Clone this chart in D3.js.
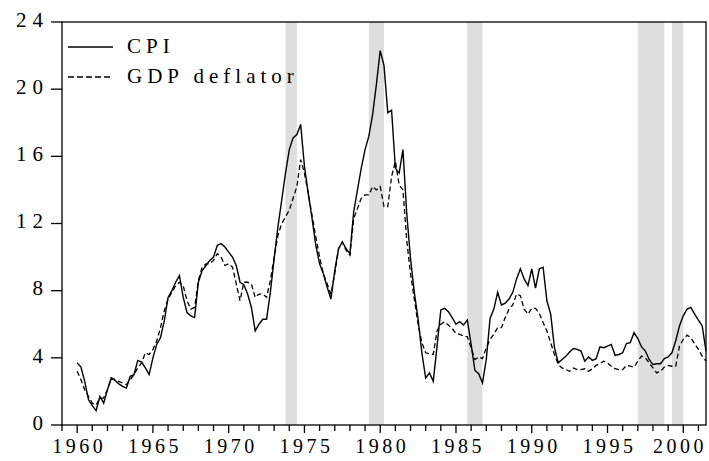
<!DOCTYPE html>
<html>
<head>
<meta charset="utf-8">
<script src="https://cdn.jsdelivr.net/npm/d3@7/dist/d3.min.js"></script>
<style>
  body { margin: 0; background: #fff; }
  text { font-family: "Liberation Serif", "Times New Roman", serif; fill: #000; }
</style>
</head>
<body>
<div id="chart"></div>
<script>
// Données trimestrielles 1960Q1 - 2001Q3
const startYear = 1960;

const cpi = [
  3.7, 3.45, 2.6, 1.5,   1.15, 0.85, 1.7, 1.3,   2.1, 2.8, 2.65, 2.45,   2.3, 2.2, 2.9, 3.0,
  3.85, 3.75, 3.4, 3.0,  4.0, 4.8, 5.2, 6.2,     7.6, 8.0, 8.5, 8.9,     7.6, 6.7, 6.5, 6.4,
  8.5, 9.2, 9.5, 9.8,    10.0, 10.7, 10.8, 10.6, 10.3, 10.0, 9.5, 8.5,   8.35, 7.8, 7.0, 5.6,
  6.0, 6.3, 6.3, 7.9,    9.9, 11.8, 13.4, 15.0,  16.4, 17.1, 17.3, 17.9, 15.4, 13.8, 12.3, 10.7,
  9.6, 9.0, 8.2, 7.5,    9.2, 10.5, 10.9, 10.5,  10.2, 12.7, 14.0, 15.3, 16.4, 17.2, 18.5, 20.3,
  22.3, 21.4, 18.6, 18.75, 15.3, 15.0, 16.4, 12.6, 9.9, 7.9, 6.3, 4.3,  2.8, 3.1, 2.6, 4.7,
  6.85, 6.95, 6.75, 6.4, 6.0, 6.15, 5.95, 6.25,  4.8, 3.25, 3.05, 2.5,   3.9, 6.35, 6.9, 7.9,
  7.15, 7.25, 7.5, 7.9,  8.7, 9.3, 8.7, 8.3,     9.3, 8.15, 9.3, 9.4,    7.4, 6.6, 4.6, 3.7,
  3.9, 4.1, 4.35, 4.55,  4.5, 4.4, 3.8, 4.05,    3.85, 3.95, 4.65, 4.6,  4.7, 4.8, 4.15, 4.2,
  4.3, 4.85, 4.9, 5.5,   5.15, 4.65, 4.4, 3.9,   3.6, 3.65, 3.65, 3.95,  4.05, 4.3, 5.0, 5.9,
  6.5, 6.9, 7.0, 6.6,    6.25, 5.9, 4.4
];

const deflator = [
  3.2, 2.7, 2.1, 1.7,    1.3, 1.2, 1.6, 1.6,     2.1, 2.8, 2.7, 2.6,     2.5, 2.4, 2.7, 3.0,
  3.4, 3.7, 4.3, 4.2,    4.5, 5.0, 5.8, 6.8,     7.5, 7.9, 8.3, 8.5,     8.3, 7.4, 6.9, 7.0,
  8.6, 9.4, 9.6, 9.6,    9.8, 10.2, 10.0, 9.5,   9.6, 9.4, 8.4, 7.4,     8.5, 8.5, 8.4, 7.6,
  7.8, 7.8, 7.6, 8.6,    10.0, 11.3, 12.0, 12.4, 12.8, 13.5, 14.2, 15.8, 15.0, 13.8, 12.5, 11.2,
  10.0, 9.0, 8.4, 7.8,   9.0, 10.5, 10.9, 10.4,  10.1, 12.3, 12.9, 13.5, 13.7, 13.7, 14.2, 14.0,
  14.2, 13.0, 13.0, 14.8, 15.7, 14.3, 14.0, 11.0, 9.0, 7.5, 6.0, 4.9,   4.3, 4.25, 4.2, 5.6,
  6.0, 6.15, 5.95, 5.75, 5.45, 5.4, 5.3, 5.25,   4.6, 3.9, 4.05, 3.95,   4.6, 5.1, 5.4, 5.8,
  5.8, 6.4, 6.9, 7.15,   7.8, 7.7, 6.9, 6.6,     6.95, 6.95, 6.65, 6.1,  5.6, 4.9, 4.2, 3.6,
  3.4, 3.3, 3.2, 3.4,    3.3, 3.3, 3.35, 3.2,    3.35, 3.55, 3.65, 3.8,  3.7, 3.5, 3.35, 3.3,
  3.3, 3.55, 3.5, 3.45,  3.8, 4.1, 4.0, 3.7,     3.4, 3.1, 3.2, 3.45,    3.55, 3.5, 3.5, 4.7,
  5.1, 5.35, 5.2, 4.85,  4.5, 4.1, 3.8
];

// Périodes grisées (début, fin en années décimales)
const shaded = [
  [1973.75, 1974.5],
  [1979.25, 1980.25],
  [1985.75, 1986.75],
  [1997.0, 1998.75],
  [1999.25, 2000.0]
];

const yTicks = [0, 4, 8, 12, 16, 20, 24];
const xLabelYears = [1960, 1965, 1970, 1975, 1980, 1985, 1990, 1995, 2000];
const seriesNames = ["CPI", "GDP deflator"];

// Dimensions
const W = 709, H = 461;
const margin = { top: 22, right: 3, bottom: 36, left: 62 };
const innerW = W - margin.left - margin.right;
const innerH = H - margin.top - margin.bottom;

const svg = d3.select("#chart").append("svg")
  .attr("width", W).attr("height", H);

const g = svg.append("g").attr("transform", `translate(${margin.left},${margin.top})`);

const x = d3.scaleLinear().domain([1959, 2001.5]).range([0, innerW]);
const y = d3.scaleLinear().domain([0, 24]).range([innerH, 0]);

// Zones grisées
g.selectAll(".shade").data(shaded).enter().append("rect")
  .attr("x", d => x(d[0]))
  .attr("width", d => x(d[1]) - x(d[0]))
  .attr("y", 0).attr("height", innerH)
  .attr("fill", "#dedede");

// Séries
const toPts = arr => arr.map((v, i) => ({ t: startYear + i / 4, v }));
const line = d3.line().x(d => x(d.t)).y(d => y(d.v));

g.append("path").datum(toPts(deflator))
  .attr("d", line).attr("fill", "none")
  .attr("stroke", "#000").attr("stroke-width", 1.3)
  .attr("stroke-dasharray", "5,3");

g.append("path").datum(toPts(cpi))
  .attr("d", line).attr("fill", "none")
  .attr("stroke", "#000").attr("stroke-width", 1.4);

// Cadre
g.append("rect").attr("x", 0).attr("y", 0)
  .attr("width", innerW).attr("height", innerH)
  .attr("fill", "none").attr("stroke", "#000").attr("stroke-width", 1.3);

// Axe Y
const yAxis = g.append("g");
yAxis.selectAll("line").data(yTicks).enter().append("line")
  .attr("x1", -11).attr("x2", 0)
  .attr("y1", d => y(d)).attr("y2", d => y(d))
  .attr("stroke", "#000").attr("stroke-width", 1.3);
yAxis.selectAll("text").data(yTicks).enter().append("text")
  .attr("x", -13).attr("y", d => y(d) - 2)
  .attr("dy", "0.32em")
  .attr("text-anchor", "end")
  .style("font-size", "21px").style("letter-spacing", "6px")
  .text(d => d);

// Axe X : graduations annuelles
const years = d3.range(1959, 2002);
const xAxis = g.append("g").attr("transform", `translate(0,${innerH})`);
xAxis.selectAll("line").data(years).enter().append("line")
  .attr("x1", d => x(d)).attr("x2", d => x(d))
  .attr("y1", 0).attr("y2", d => xLabelYears.includes(d) ? 8 : 6)
  .attr("stroke", "#000").attr("stroke-width", 1.3);
xAxis.selectAll("text").data(xLabelYears).enter().append("text")
  .attr("x", d => x(d) + 2).attr("y", 28)
  .attr("text-anchor", "middle")
  .style("font-size", "20px").style("letter-spacing", "3.5px")
  .text(d => d)
  .each(function () {
    // garder le dernier libellé dans la fenêtre
    const b = this.getBBox();
    const over = margin.left + b.x + b.width - (W - 2);
    if (over > 0) d3.select(this).attr("x", +d3.select(this).attr("x") - over);
  });

// Légende
const legend = g.append("g").attr("transform", "translate(6,25)");
seriesNames.forEach((name, i) => {
  const ly = i * 30;
  legend.append("line")
    .attr("x1", 0).attr("x2", 45).attr("y1", ly).attr("y2", ly)
    .attr("stroke", "#000").attr("stroke-width", 1.3)
    .attr("stroke-dasharray", i === 1 ? "6,3" : null);
  legend.append("text")
    .attr("x", 59).attr("y", ly + 6)
    .style("font-size", "21px").style("letter-spacing", "5px")
    .text(name);
});
</script>
</body>
</html>
